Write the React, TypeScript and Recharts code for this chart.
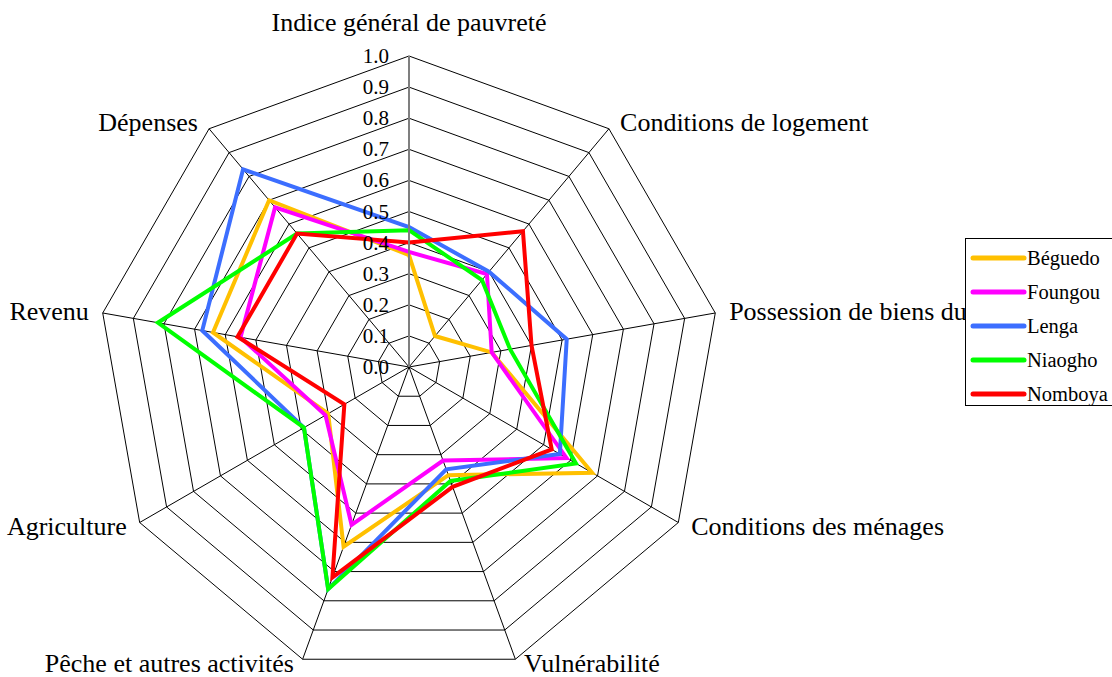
import React from 'react'
import { RadarChart, Radar, PolarGrid, PolarAngleAxis, PolarRadiusAxis, Legend } from 'recharts'

const categories = [
  'Indice général de pauvreté',
  'Conditions de logement',
  'Possession de biens durables',
  'Conditions des ménages',
  'Vulnérabilité',
  'Pêche et autres activités',
  'Agriculture',
  'Revenu',
  'Dépenses',
]

const radiusTicks = [0, 0.1, 0.2, 0.3, 0.4, 0.5, 0.6, 0.7, 0.8, 0.9, 1.0]

const beguedo = [0.36, 0.13, 0.27, 0.68, 0.37, 0.615, 0.3, 0.64, 0.7]
const foungou = [0.37, 0.39, 0.27, 0.585, 0.32, 0.54, 0.31, 0.55, 0.67]
const lenga = [0.45, 0.4, 0.515, 0.56, 0.35, 0.76, 0.39, 0.675, 0.83]
const niaogho = [0.44, 0.365, 0.33, 0.62, 0.39, 0.76, 0.39, 0.82, 0.56]
const nomboya = [0.4, 0.57, 0.4, 0.53, 0.41, 0.72, 0.24, 0.56, 0.56]

const series = [
  { key: 'Béguedo', values: beguedo, color: '#FFC000' },
  { key: 'Foungou', values: foungou, color: '#FF00FF' },
  { key: 'Lenga', values: lenga, color: '#3C6EFF' },
  { key: 'Niaogho', values: niaogho, color: '#00FF00' },
  { key: 'Nomboya', values: nomboya, color: '#FF0000' },
]

const data = categories.map((name, i) => {
  const row: Record<string, string | number> = { name }
  series.forEach((s) => {
    row[s.key] = s.values[i]
  })
  return row
})

const FONT = 'Liberation Serif, Times New Roman, serif'

function AngleTick({ x, y, payload, textAnchor, cy }: any) {
  const above = textAnchor === 'middle' && y < cy
  const dx = textAnchor === 'start' ? 6 : textAnchor === 'end' ? -6 : 0
  const below = y > cy + 250
  return (
    <text
      x={x + dx}
      y={above ? y - 26 : below ? y - 3 : y}
      textAnchor={textAnchor}
      dominantBaseline="central"
      style={{ fontFamily: FONT }}
      fontSize={26}
      fill="#000"
    >
      {payload.value}
    </text>
  )
}

function RadiusTick({ x, y, payload }: any) {
  return (
    <text
      x={x - 20}
      y={y}
      textAnchor="end"
      dominantBaseline="central"
      style={{ fontFamily: FONT }}
      fontSize={21}
      fill="#000"
    >
      {Number(payload.value).toFixed(1)}
    </text>
  )
}

function LegendBox() {
  return (
    <div
      style={{
        border: '1px solid #000',
        background: '#fff',
        width: 150,
        height: 168,
        boxSizing: 'border-box',
        paddingTop: 2,
        fontFamily: FONT,
      }}
    >
      {series.map((s) => (
        <div key={s.key} style={{ display: 'flex', alignItems: 'center', height: 34 }}>
          <svg width={62} height={10} style={{ marginLeft: 3 }}>
            <line x1={4} y1={5} x2={55} y2={5} stroke={s.color} strokeWidth={5} strokeLinecap="round" />
          </svg>
          <span style={{ fontSize: 20.5, marginLeft: -4 }}>{s.key}</span>
        </div>
      ))}
    </div>
  )
}

export default function App() {
  return (
    <div style={{ position: 'absolute', left: 0, top: 0, width: 1112, height: 677, background: '#fff' }}>
      <RadarChart
        width={1112}
        height={677}
        data={data}
        cx={409}
        cy={367}
        outerRadius={311}
        margin={{ top: 0, right: 0, bottom: 0, left: 0 }}
      >
        <PolarGrid gridType="polygon" stroke="#000" strokeWidth={1} strokeOpacity={1} />
        <PolarAngleAxis dataKey="name" tick={(p: any) => <AngleTick {...p} cy={367} />} tickLine={false} axisLine={false} />
        <PolarRadiusAxis
          type="number"
          angle={90}
          domain={[0, 1]}
          ticks={radiusTicks}
          allowDataOverflow
          axisLine={{ stroke: '#7f7f7f', strokeWidth: 2 }}
          tickLine={false}
          tick={(p: any) => <RadiusTick {...p} />}
        />
        {series.map((s) => (
          <Radar
            key={s.key}
            name={s.key}
            dataKey={s.key}
            stroke={s.color}
            strokeWidth={4}
            fill="none"
            fillOpacity={0}
            dot={false}
            isAnimationActive={false}
          />
        ))}
        <Legend
          content={() => <LegendBox />}
          wrapperStyle={{ position: 'absolute', left: 965, top: 238, width: 150 }}
        />
      </RadarChart>
    </div>
  )
}
